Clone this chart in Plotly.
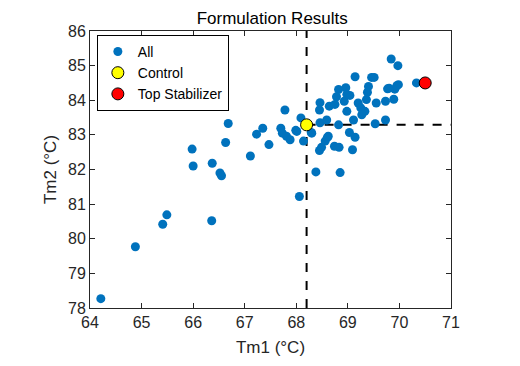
import plotly.graph_objects as go

# All formulations (Tm1, Tm2)
tm1_all = [64.21, 64.88, 65.41, 65.49, 66.36, 65.98, 66.00, 66.37, 66.52, 66.55,
           66.63, 66.68, 67.11, 67.23, 67.35, 67.47, 67.78, 67.70, 67.73, 67.81,
           67.88, 67.99, 68.09, 68.14, 68.06, 68.29, 68.38, 68.85, 68.46, 68.45,
           68.45, 68.49, 68.56, 68.60, 68.64, 68.75, 68.82, 68.78, 68.96, 68.98,
           68.93, 68.98, 68.74, 68.83, 69.09, 69.03, 69.14, 69.11, 69.14, 69.20,
           69.25, 69.33, 69.36, 69.38, 69.40, 69.46, 69.51, 69.53, 69.55, 69.73,
           69.73, 69.77, 69.91, 69.89, 69.98, 69.84, 69.97, 70.33, 68.46, 68.59,
           68.82, 69.27, 69.04, 69.80, 69.95, 68.01, 68.30, 68.62]
tm2_all = [78.27, 79.77, 80.42, 80.69, 80.52, 82.59, 82.10, 82.18, 81.90, 81.82,
           82.78, 83.33, 82.39, 83.02, 83.19, 82.72, 83.72, 83.19, 83.05, 82.96,
           82.86, 83.13, 83.49, 82.82, 81.22, 83.07, 81.93, 81.91, 83.93, 83.72,
           82.55, 82.64, 82.82, 82.92, 83.83, 83.88, 84.31, 84.10, 84.36, 84.17,
           83.97, 83.68, 82.67, 82.64, 82.57, 83.07, 82.93, 83.43, 84.68, 83.92,
           83.78, 83.68, 84.02, 84.23, 84.40, 84.66, 84.66, 83.32, 83.92, 83.43,
           83.97, 84.33, 84.32, 84.03, 84.45, 85.19, 85.00, 84.50, 83.35, 83.43,
           83.29, 83.58, 84.14, 84.35, 84.42, 83.10, 83.05, 82.96]

control_tm1 = [68.20]
control_tm2 = [83.29]
top_tm1 = [70.50]
top_tm2 = [84.50]

x_range = [64, 71]
y_range = [78, 86]
x_ticks = [64, 65, 66, 67, 68, 69, 70, 71]
y_ticks = [78, 79, 80, 81, 82, 83, 84, 85, 86]

axis_color = "#262626"

fig = go.Figure()
fig.add_trace(go.Scatter(x=tm1_all, y=tm2_all, mode="markers", name="All",
                         marker=dict(color="#0072BD", size=9, line=dict(width=0))))
fig.add_trace(go.Scatter(x=control_tm1, y=control_tm2, mode="markers", name="Control",
                         marker=dict(color="#FFFF00", size=12, line=dict(color="black", width=1))))
fig.add_trace(go.Scatter(x=top_tm1, y=top_tm2, mode="markers", name="Top Stabilizer",
                         marker=dict(color="#FF0000", size=12, line=dict(color="black", width=1))))

# reference lines at the control values
fig.add_shape(type="line", x0=control_tm1[0], x1=control_tm1[0], y0=y_range[0], y1=y_range[1],
              line=dict(color="black", width=2, dash="dash"), layer="below")
fig.add_shape(type="line", x0=control_tm1[0], x1=x_range[1], y0=control_tm2[0], y1=control_tm2[0],
              line=dict(color="black", width=2, dash="dash"), layer="below")

axis_common = dict(showgrid=False, zeroline=False, showline=True, linecolor=axis_color,
                   linewidth=1, mirror="ticks", ticks="inside", ticklen=5, automargin=False,
                   tickcolor=axis_color, tickfont=dict(size=16, color=axis_color))

fig.update_layout(
    width=520, height=366,
    margin=dict(l=82, r=77, t=23, b=66),
    paper_bgcolor="white", plot_bgcolor="white",
    font=dict(family="Liberation Sans, Arial, sans-serif", color=axis_color),
    title=dict(text="Formulation Results", x=(82 + 361 / 2) / 520, xref="paper", xanchor="center",
               y=0.972, yanchor="middle", font=dict(size=17, color="black"), automargin=False),
    xaxis=dict(range=x_range, tickvals=x_ticks, title=dict(text="Tm1 (°C)", font=dict(size=17), standoff=10),
               **axis_common),
    yaxis=dict(range=y_range, tickvals=y_ticks, title=dict(text="Tm2 (°C)", font=dict(size=17), standoff=7),
               **axis_common),
    legend=dict(x=0.019, y=0.986, xanchor="left", yanchor="top", bgcolor="white",
                bordercolor="black", borderwidth=1, font=dict(size=14, color="black"),
                tracegroupgap=0, itemsizing="trace"),
    showlegend=True,
)

fig.write_html("out.html")
